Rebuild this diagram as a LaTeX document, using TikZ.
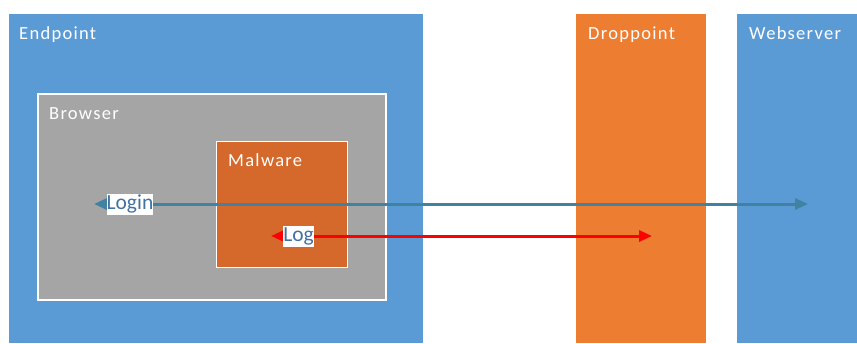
\documentclass[tikz,border=0pt]{standalone}
\usepackage{fontspec}
\setmainfont{Carlito}
\newfontfamily\titlefont{Carlito}[LetterSpace=7]
\usetikzlibrary{arrows.meta}

\definecolor{zoneblue}{RGB}{91,155,213}
\definecolor{zoneorange}{RGB}{237,125,49}
\definecolor{malorange}{RGB}{213,105,43}
\definecolor{browsergray}{RGB}{165,165,165}
\definecolor{loginline}{RGB}{65,130,163}
\definecolor{labeltext}{RGB}{68,114,160}

\tikzset{
  zone/.style={rectangle, inner sep=0pt, draw=none},
  inner/.style={rectangle, inner sep=0pt, draw=white},
  title/.style={anchor=base west, inner sep=0pt, text=white,
    font=\titlefont\fontsize{18.5}{22}\selectfont},
  tag/.style={fill=white, text=labeltext, inner sep=0pt,
    text height=15.5pt, text depth=5.5pt,
    font=\fontsize{21.5}{24}\selectfont},
  flow/.style={line width=3pt, {Triangle[length=13pt,width=11pt]}-{Triangle[length=13pt,width=11pt]}},
}

\begin{document}
\begin{tikzpicture}[x=1pt, y=-1pt]
  \useasboundingbox (0,0) rectangle (857,343);

  % zones
  \node[zone, fill=zoneblue, minimum width=414pt, minimum height=329pt] (endpoint) at (216,178.5) {};
  \node[zone, fill=zoneorange, minimum width=130pt, minimum height=329pt] (droppoint) at (641,178.5) {};
  \node[zone, fill=zoneblue, minimum width=120pt, minimum height=329pt] (webserver) at (797,178.5) {};

  % nested boxes inside the endpoint
  \node[inner, fill=browsergray, line width=2pt, minimum width=348pt, minimum height=206pt] (browser) at (211.5,196.5) {};
  \node[inner, fill=malorange, line width=1.5pt, minimum width=131pt, minimum height=126pt] (malware) at (282,204.5) {};

  % titles
  \node[title] (tEndpoint) at (19,39) {Endpoint};
  \node[title] (tBrowser) at (49,119.5) {Browser};
  \node[title] (tMalware) at (228,166.5) {Malware};
  \node[title] (tDroppoint) at (588,39) {Droppoint};
  \node[title] (tWebserver) at (749,39) {Webserver};

  % connector ends
  \coordinate (loginEnd) at (94,204);
  \coordinate (webEnd) at (808,204);
  \coordinate (logEnd) at (271,236);
  \coordinate (dropEnd) at (652,236);

  % flows
  \draw[flow, loginline] (loginEnd) -- (webEnd);
  \draw[flow, red] (logEnd) -- (dropEnd);

  % flow labels
  \node[tag] (login) at (130,204) {Login};
  \node[tag] (log) at (298.5,236) {Log};
\end{tikzpicture}
\end{document}
